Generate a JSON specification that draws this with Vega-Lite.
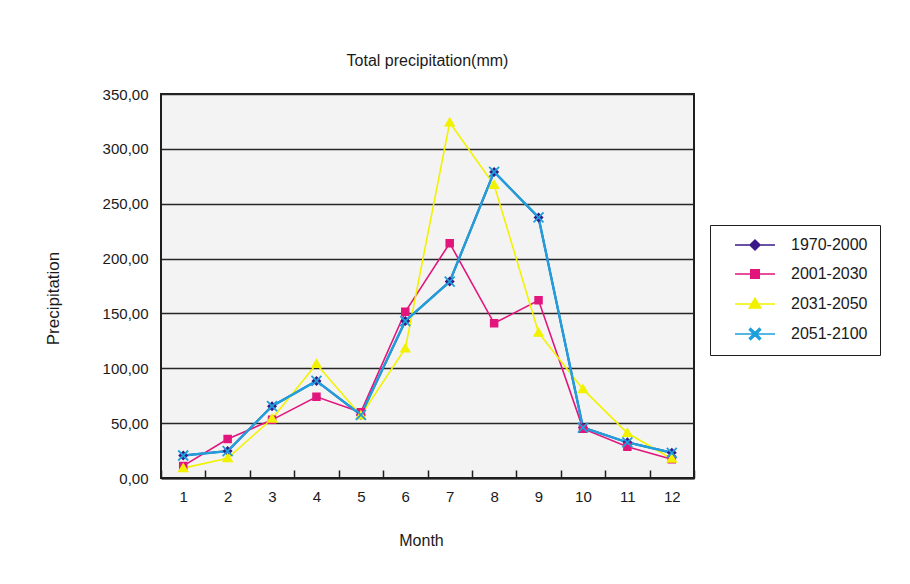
{
  "$schema": "https://vega.github.io/schema/vega-lite/v6.json",
  "autosize": {"type": "none"},
  "padding": {"left": 161, "top": 94, "right": 216, "bottom": 106},
  "width": 533,
  "height": 384,
  "background": "#ffffff",
  "title": {
    "text": "Total precipitation(mm)",
    "font": "Liberation Sans",
    "fontSize": 16,
    "fontWeight": "normal",
    "color": "#1a1a1a",
    "anchor": "middle",
    "offset": 18
  },
  "config": {
    "font": "Liberation Sans",
    "view": {"fill": "#f3f3f3", "stroke": "#1e1e1e", "strokeWidth": 2},
    "axis": {
      "labelFont": "Liberation Sans",
      "titleFont": "Liberation Sans",
      "labelColor": "#1a1a1a",
      "titleColor": "#1a1a1a",
      "titleFontWeight": "normal"
    },
    "legend": {
      "labelFont": "Liberation Sans",
      "labelColor": "#1a1a1a"
    }
  },
  "data": {
    "values": [
      {"month": 1, "period": "1970-2000", "value": 20.5},
      {"month": 2, "period": "1970-2000", "value": 24.5},
      {"month": 3, "period": "1970-2000", "value": 65.5},
      {"month": 4, "period": "1970-2000", "value": 88.5},
      {"month": 5, "period": "1970-2000", "value": 57.5},
      {"month": 6, "period": "1970-2000", "value": 143},
      {"month": 7, "period": "1970-2000", "value": 179},
      {"month": 8, "period": "1970-2000", "value": 279},
      {"month": 9, "period": "1970-2000", "value": 237.5},
      {"month": 10, "period": "1970-2000", "value": 46},
      {"month": 11, "period": "1970-2000", "value": 32.5},
      {"month": 12, "period": "1970-2000", "value": 23},
      {"month": 1, "period": "2001-2030", "value": 11},
      {"month": 2, "period": "2001-2030", "value": 35.5},
      {"month": 3, "period": "2001-2030", "value": 53},
      {"month": 4, "period": "2001-2030", "value": 74},
      {"month": 5, "period": "2001-2030", "value": 60},
      {"month": 6, "period": "2001-2030", "value": 151.5},
      {"month": 7, "period": "2001-2030", "value": 214},
      {"month": 8, "period": "2001-2030", "value": 141},
      {"month": 9, "period": "2001-2030", "value": 162},
      {"month": 10, "period": "2001-2030", "value": 45},
      {"month": 11, "period": "2001-2030", "value": 28.5},
      {"month": 12, "period": "2001-2030", "value": 17},
      {"month": 1, "period": "2031-2050", "value": 9},
      {"month": 2, "period": "2031-2050", "value": 18},
      {"month": 3, "period": "2031-2050", "value": 54},
      {"month": 4, "period": "2031-2050", "value": 104},
      {"month": 5, "period": "2031-2050", "value": 57},
      {"month": 6, "period": "2031-2050", "value": 118},
      {"month": 7, "period": "2031-2050", "value": 324},
      {"month": 8, "period": "2031-2050", "value": 267},
      {"month": 9, "period": "2031-2050", "value": 132.5},
      {"month": 10, "period": "2031-2050", "value": 81},
      {"month": 11, "period": "2031-2050", "value": 41},
      {"month": 12, "period": "2031-2050", "value": 17.5},
      {"month": 1, "period": "2051-2100", "value": 20.5},
      {"month": 2, "period": "2051-2100", "value": 24.5},
      {"month": 3, "period": "2051-2100", "value": 65.5},
      {"month": 4, "period": "2051-2100", "value": 88.5},
      {"month": 5, "period": "2051-2100", "value": 57.5},
      {"month": 6, "period": "2051-2100", "value": 143},
      {"month": 7, "period": "2051-2100", "value": 179},
      {"month": 8, "period": "2051-2100", "value": 279},
      {"month": 9, "period": "2051-2100", "value": 237.5},
      {"month": 10, "period": "2051-2100", "value": 46},
      {"month": 11, "period": "2051-2100", "value": 32.5},
      {"month": 12, "period": "2051-2100", "value": 23}
    ]
  },
  "encoding": {
    "x": {
      "field": "month",
      "type": "ordinal",
      "scale": {"type": "band", "paddingInner": 0, "paddingOuter": 0},
      "axis": {
        "title": "Month",
        "titleFontSize": 16,
        "titleX": 260,
        "titleY": 62,
        "titleBaseline": "middle",
        "labelAngle": 0,
        "labelFontSize": 15,
        "labelPadding": 26,
        "labelBaseline": "middle",
        "tickBand": "extent",
        "tickSize": -8,
        "tickColor": "#1e1e1e",
        "tickWidth": 1.5,
        "domainColor": "#1e1e1e",
        "domainWidth": 2,
        "grid": false
      }
    },
    "y": {
      "field": "value",
      "type": "quantitative",
      "scale": {"domain": [0, 350], "nice": false, "zero": true},
      "axis": {
        "title": "Precipitation",
        "titleFontSize": 17,
        "titleAngle": -90,
        "titleX": -108,
        "titleY": 204,
        "titleAlign": "center",
        "titleBaseline": "middle",
        "values": [0, 50, 100, 150, 200, 250, 300, 350],
        "labelExpr": "replace(format(datum.value, '.2f'), '.', ',')",
        "labelFontSize": 15,
        "labelPadding": 13,
        "ticks": false,
        "domain": false,
        "grid": true,
        "gridColor": "#262626",
        "gridWidth": 1.4
      }
    }
  },
  "layer": [
    {
      "transform": [{"filter": "datum.period === '1970-2000'"}],
      "mark": {"type": "line", "color": "#3a1a86", "strokeWidth": 2}
    },
    {
      "transform": [{"filter": "datum.period === '2001-2030'"}],
      "mark": {"type": "line", "color": "#e2157c", "strokeWidth": 1.6}
    },
    {
      "transform": [{"filter": "datum.period === '2031-2050'"}],
      "mark": {"type": "line", "color": "#f2f200", "strokeWidth": 1.6}
    },
    {
      "transform": [{"filter": "datum.period === '2051-2100'"}],
      "mark": {"type": "line", "color": "#1fa0dc", "strokeWidth": 2.4}
    },
    {
      "mark": {"type": "point", "filled": true, "opacity": 1, "size": 100},
      "encoding": {
        "color": {
          "field": "period",
          "type": "nominal",
          "scale": {
            "domain": ["1970-2000", "2001-2030", "2031-2050", "2051-2100"],
            "range": ["#3a1a86", "#e2157c", "#f2f200", "#1fa0dc"]
          },
          "legend": {
            "title": null,
            "orient": "none",
            "legendX": 549,
            "legendY": 131,
            "padding": 12,
            "strokeColor": "#1e1e1e",
            "fillColor": "#ffffff",
            "symbolSize": 100,
            "symbolOffset": 25,
            "labelOffset": 28,
            "labelFontSize": 16,
            "rowPadding": 13,
            "symbolStrokeWidth": 1.5,
            "symbolOpacity": 1,
            "encode": {
              "symbols": {
                "update": {
                  "stroke": {"scale": "color", "field": "value"},
                  "strokeWidth": {"value": 1.5}
                }
              }
            }
          }
        },
        "shape": {
          "field": "period",
          "type": "nominal",
          "scale": {
            "domain": ["1970-2000", "2001-2030", "2031-2050", "2051-2100"],
            "range": [
              "M-4,0H4M0,-1L1,0L0,1L-1,0Z",
              "M-4,0H4M-0.85,-0.85H0.85V0.85H-0.85Z",
              "M-4,0H4M0,-1.15L1.15,0.8H-1.15Z",
              "M-4,0H4M-1.127,-0.873L0.873,1.127L1.127,0.873L-0.873,-1.127ZM-0.873,1.127L1.127,-0.873L0.873,-1.127L-1.127,0.873Z"
            ]
          },
          "legend": {
            "title": null,
            "orient": "none",
            "legendX": 549,
            "legendY": 131,
            "padding": 12,
            "strokeColor": "#1e1e1e",
            "fillColor": "#ffffff",
            "symbolSize": 100,
            "symbolOffset": 25,
            "labelOffset": 28,
            "labelFontSize": 16,
            "rowPadding": 13,
            "symbolStrokeWidth": 1.5,
            "symbolOpacity": 1,
            "encode": {
              "symbols": {
                "update": {
                  "stroke": {"scale": "color", "field": "value"},
                  "strokeWidth": {"value": 1.5}
                }
              }
            }
          }
        }
      }
    }
  ]
}
